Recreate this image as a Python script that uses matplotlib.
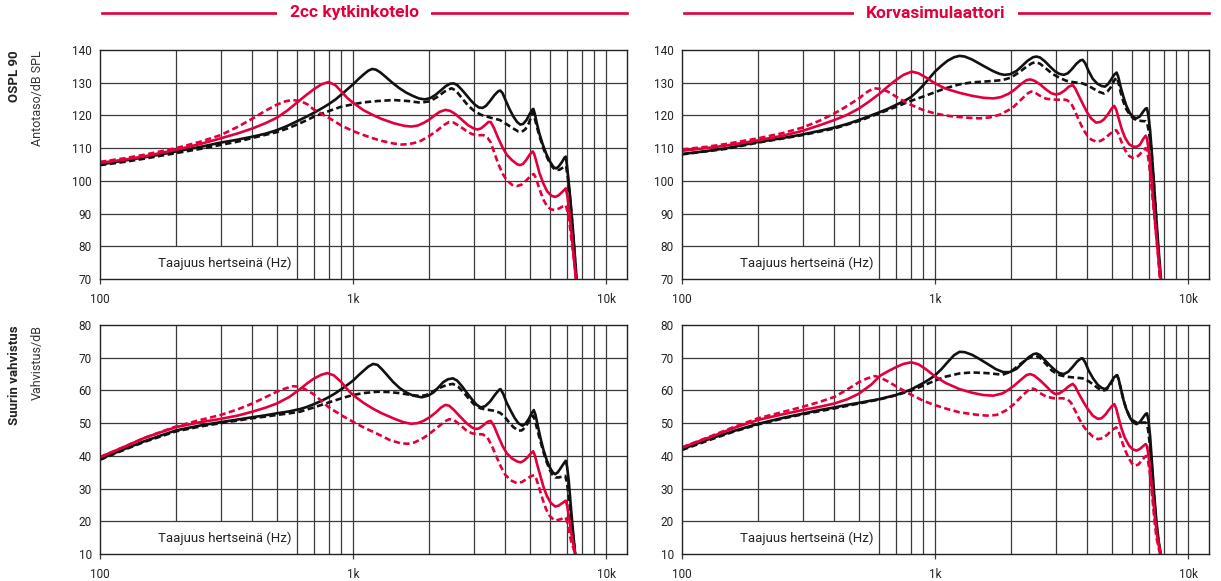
import matplotlib
matplotlib.use('Agg')
import matplotlib.pyplot as plt
from matplotlib.patches import Rectangle
from matplotlib.lines import Line2D
from matplotlib.ticker import FixedLocator, NullLocator, FixedFormatter

plt.rcParams['font.family'] = ['Roboto', 'DejaVu Sans']

RED = '#e2003c'
BLACK = '#111111'

# ---------------- Data (frequency in Hz, level in dB) ----------------
# Top-left: 2cc kytkinkotelo, OSPL 90
tl_bs_f = [100, 125, 150, 175, 200, 250, 300, 350, 400, 450, 500, 550, 600, 650, 700, 750, 800, 850, 900,
           950, 1000, 1050, 1100, 1150, 1190, 1230, 1280, 1350, 1430, 1520, 1620, 1720, 1820, 1920, 2020,
           2120, 2220, 2320, 2420, 2500, 2580, 2680, 2800, 2920, 3040, 3150, 3250, 3350, 3480, 3620, 3750,
           3820, 3900, 4000, 4150, 4300, 4450, 4580, 4700, 4850, 4980, 5100, 5160, 5230, 5330, 5450, 5600,
           5800, 6000, 6200, 6350, 6500, 6700, 6850, 6930, 7000, 7100, 7250, 7400, 7550, 7650]
tl_bs_v = [105, 106.2, 107.2, 108.1, 109, 110.4, 111.7, 112.6, 113.5, 114.4, 115.5, 116.8, 118.2, 119.5,
           120.8, 122.1, 123.4, 124.8, 126.4, 128, 129.5, 131.1, 132.5, 133.7, 134.2, 134, 133.2, 131.7,
           130, 128.4, 127, 126, 125.2, 124.9, 125.3, 126.3, 127.6, 128.9, 129.7, 129.8, 129.3, 128,
           126.3, 124.6, 123.2, 122.4, 122.3, 122.9, 124.4, 126.2, 127.4, 127.6, 126.8, 124.8, 122, 119.7,
           118, 117.2, 117.4, 118.6, 120.3, 121.7, 122, 120.5, 117.5, 114.5, 111.5, 108.3, 105.9, 104.2,
           103.8, 104.4, 105.8, 107.1, 107.4, 105, 100.5, 93, 85, 76, 70]
tl_bd_f = [100, 125, 150, 200, 250, 300, 350, 430, 500, 550, 600, 650, 700, 750, 800, 900, 1000, 1100,
           1250, 1450, 1650, 1850, 2000, 2150, 2300, 2450, 2550, 2700, 2850, 3000, 3200, 3500, 3800, 4050,
           4300, 4500, 4650, 4800, 4950, 5080, 5150, 5220, 5350, 5500, 5700, 5900, 6100, 6300, 6550, 6800,
           6950, 7050, 7200, 7350, 7500, 7620]
tl_bd_v = [104.8, 105.8, 106.8, 108.5, 109.8, 111, 112, 113.7, 114.9, 116, 117.2, 118.4, 119.6, 120.5,
           121.3, 122.7, 123.4, 124, 124.4, 124.7, 124.4, 123.9, 124.3, 125.6, 127.3, 128.3, 127.6, 125.2,
           123, 121.5, 120.2, 119.3, 118.6, 117.3, 116, 115.1, 115, 115.8, 117.6, 120, 121, 119.3, 116,
           112.8, 109.2, 106.5, 104.5, 103.3, 103.4, 104.2, 104.5, 101.5, 95, 87, 78, 70]
tl_rs_f = [100, 125, 150, 200, 250, 300, 350, 400, 450, 500, 550, 600, 650, 700, 750, 800, 850, 900, 950,
           1000, 1100, 1200, 1300, 1450, 1600, 1700, 1800, 1900, 2000, 2100, 2200, 2320, 2420, 2550, 2700,
           2850, 3000, 3100, 3200, 3320, 3430, 3500, 3600, 3750, 3900, 4050, 4250, 4450, 4570, 4700, 4850,
           5000, 5130, 5200, 5300, 5450, 5650, 5850, 6100, 6300, 6500, 6750, 6930, 7030, 7150, 7300, 7450,
           7600]
tl_rs_v = [105.5, 106.5, 107.5, 109.5, 111.3, 113, 114.5, 116, 117.6, 119.3, 121.5, 123.9, 126.1, 128,
           129.5, 130.2, 129.3, 127.3, 125.3, 123.9, 121.6, 120.1, 118.9, 117.6, 116.8, 116.6, 116.9,
           117.7, 118.7, 120, 121.1, 121.7, 121.4, 120.3, 118.6, 117, 116, 115.7, 116, 117, 118, 118,
           116.3, 113, 110.2, 108, 106.3, 105.1, 104.8, 105.2, 106.5, 108.1, 109, 108.2, 106, 102.5, 99.2,
           96.8, 95.4, 95.1, 95.6, 96.8, 97.7, 95.5, 91, 84, 77, 70]
tl_rd_f = [100, 125, 150, 200, 250, 300, 350, 400, 450, 500, 540, 575, 620, 660, 700, 750, 800, 900,
           1000, 1100, 1200, 1300, 1450, 1550, 1650, 1750, 1850, 2000, 2150, 2300, 2400, 2500, 2650, 2800,
           2950, 3100, 3270, 3400, 3500, 3620, 3750, 3900, 4050, 4250, 4450, 4650, 4850, 5050, 5180, 5280,
           5450, 5650, 5850, 6050, 6250, 6500, 6750, 6930, 7050, 7200, 7350, 7500, 7620]
tl_rd_v = [105.8, 106.9, 108, 110, 112, 114, 116.5, 119, 121.4, 123.3, 124.3, 124.7, 124.4, 123.4,
           121.8, 120.5, 119.3, 116.9, 115.2, 114, 113, 112.2, 111.4, 111.1, 111.2, 111.6, 112.2, 113.7,
           115.4, 117.2, 118, 117.8, 116.6, 115.3, 114.3, 113.9, 114, 113.2, 111.8, 108.5, 105.2, 102.2,
           100.2, 98.8, 98.4, 98.9, 100.2, 101.6, 102.1, 100.9, 97.6, 94.3, 92.2, 91.3, 91.1, 91.5, 92.2,
           92.6, 90.5, 86, 80, 75, 70]

# Top-right: Korvasimulaattori, OSPL 90
tr_bs_f = [100, 125, 150, 200, 250, 300, 350, 400, 450, 500, 550, 600, 650, 700, 750, 800, 850, 900, 950,
           1000, 1060, 1120, 1190, 1250, 1310, 1400, 1500, 1600, 1700, 1800, 1880, 1980, 2100, 2200, 2320,
           2440, 2520, 2600, 2720, 2850, 2980, 3100, 3230, 3350, 3480, 3620, 3750, 3830, 3920, 4050, 4200,
           4380, 4550, 4690, 4820, 4950, 5100, 5220, 5300, 5420, 5550, 5700, 5890, 6050, 6250, 6450, 6650,
           6800, 6880, 6970, 7080, 7200, 7350, 7500, 7650, 7820]
tr_bs_v = [108.2, 109.1, 110, 111.9, 113.1, 114.2, 115.3, 116.3, 117.4, 118.6, 119.8, 120.9, 122, 123.2,
           124.3, 125.5, 127.3, 129.3, 131.4, 133.4, 135.2, 136.7, 137.8, 138.2, 138, 137.1, 135.8, 134.6,
           133.5, 132.7, 132.4, 132.6, 133.6, 135, 136.7, 137.8, 138, 137.7, 136.5, 134.9, 133.5, 132.7,
           132.4, 132.9, 134.2, 135.8, 136.8, 137, 136, 133.5, 131.2, 129.7, 129, 128.8, 129.5, 130.8,
           132.4, 133.1, 131.8, 128.6, 125.8, 123, 120.7, 119.6, 119.1, 119.7, 121.2, 122.1, 122.2, 120,
           115.5, 108, 98, 88, 79, 70]
tr_bd_f = [100, 150, 200, 300, 400, 500, 600, 700, 800, 900, 1000, 1100, 1250, 1400, 1600, 1850, 2000,
           2150, 2300, 2420, 2500, 2600, 2750, 2900, 3100, 3300, 3500, 3830, 4050, 4220, 4450, 4650, 4800,
           4950, 5100, 5220, 5300, 5420, 5550, 5700, 5890, 6100, 6300, 6550, 6800, 6900, 7000, 7150, 7300,
           7450, 7600, 7750]
tr_bd_v = [108.1, 109.8, 111.7, 114, 116, 118.3, 120.6, 122.6, 124.4, 125.8, 127.1, 128.3, 129.5, 130.1,
           130.4, 130.8, 131.6, 133.2, 134.9, 136, 136.3, 135.8, 134.3, 132.8, 131.5, 130.6, 130.2, 129.8,
           129, 128.2, 127.2, 126.7, 127.3, 128.6, 130.6, 131.6, 130.2, 127, 124.2, 121.9, 120.2, 119,
           118.5, 118.3, 118.2, 117.5, 115, 110, 101, 91, 80, 70]
tr_rs_f = [100, 125, 150, 200, 250, 300, 350, 400, 450, 500, 550, 600, 650, 700, 750, 810, 860, 920,
           1000, 1100, 1250, 1400, 1550, 1700, 1820, 1950, 2050, 2180, 2300, 2380, 2470, 2600, 2750, 2880,
           3000, 3120, 3250, 3380, 3500, 3580, 3700, 3850, 4000, 4150, 4330, 4500, 4650, 4820, 4980, 5110,
           5200, 5330, 5480, 5650, 5850, 6050, 6250, 6450, 6650, 6800, 6880, 7000, 7150, 7300, 7450, 7620,
           7800]
tr_rs_v = [109.2, 110, 110.8, 112.4, 113.8, 115.3, 117, 118.6, 120.2, 122.1, 124.3, 126.5, 128.8, 130.8,
           132.4, 133.4, 132.9, 131.6, 129.8, 128.2, 126.9, 126, 125.4, 125.2, 125.6, 126.6, 127.7, 129.5,
           130.8, 131, 130.6, 129.5, 127.9, 126.8, 126.4, 126.7, 127.6, 128.8, 129.3, 128.3, 126, 123.3,
           120.8, 119, 117.8, 118, 118.8, 120.3, 122, 122.9, 121.8, 118.8, 115.6, 113, 111.2, 110.5,
           110.4, 111, 112.8, 113.8, 113, 109, 102, 93, 85, 77, 70]
tr_rd_f = [100, 125, 150, 200, 250, 300, 350, 400, 450, 500, 540, 572, 610, 650, 700, 750, 800, 900,
           1000, 1100, 1200, 1350, 1500, 1650, 1800, 1950, 2050, 2200, 2330, 2400, 2480, 2600, 2750, 2900,
           3050, 3200, 3320, 3450, 3550, 3700, 3850, 4000, 4150, 4330, 4500, 4700, 4900, 5100, 5200, 5300,
           5450, 5650, 5850, 6050, 6250, 6450, 6650, 6800, 6900, 7020, 7150, 7300, 7450, 7600, 7750]
tr_rd_v = [109.6, 110.4, 111.3, 113, 114.6, 116.3, 118.4, 120.6, 122.9, 125.2, 127.2, 128.3, 128.1,
           127.3, 125.8, 124.4, 123.3, 121.6, 120.6, 120, 119.6, 119.3, 119.1, 119.4, 120.2, 121.6, 122.7,
           125, 126.8, 127.3, 127, 126, 125.1, 124.9, 124.8, 124.9, 124.7, 123.7, 121.8, 118.6, 115.8,
           113.8, 112.6, 112, 112.2, 113, 114.3, 115.3, 115.5, 114.5, 112, 109.3, 107.6, 107, 107.2,
           108.1, 109.4, 110, 109, 105, 99, 92, 85, 78, 70]

# Bottom-left: 2cc kytkinkotelo, Suurin vahvistus
bl_bs_f = [100, 125, 150, 175, 200, 250, 300, 350, 400, 450, 500, 560, 617, 660, 700, 750, 800, 850, 900,
           950, 1000, 1050, 1100, 1150, 1200, 1250, 1300, 1360, 1440, 1530, 1630, 1730, 1870, 1980, 2080,
           2180, 2270, 2370, 2480, 2580, 2700, 2810, 2950, 3080, 3200, 3330, 3480, 3650, 3780, 3830, 3920,
           4050, 4200, 4350, 4500, 4670, 4800, 4950, 5080, 5180, 5260, 5380, 5500, 5650, 5830, 6000, 6150,
           6290, 6450, 6650, 6850, 6930, 7020, 7120, 7250, 7400, 7550]
bl_bs_v = [39, 42.1, 44.5, 46.3, 47.8, 49.3, 50.3, 51.1, 51.8, 52.4, 53, 53.6, 54.3, 55, 55.8, 56.8,
           57.9, 59.1, 60.4, 61.7, 63, 64.6, 66, 67.3, 68.1, 67.8, 66.5, 64.8, 62.6, 60.7, 59.3, 58.4,
           57.9, 58.4, 59.4, 61, 62.5, 63.4, 63.7, 63, 61.2, 59.4, 57.3, 55.6, 54.8, 55.2, 56.6, 58.8,
           60.2, 60.4, 59, 56.2, 53.8, 51.6, 50, 49.2, 49.8, 51.3, 53, 54, 52.6, 49, 45.6, 42, 38.7, 36.4,
           35, 34.4, 35, 36.5, 38, 38.5, 36.5, 32.5, 25, 17, 10]
bl_bd_f = [100, 125, 150, 200, 250, 300, 350, 400, 450, 500, 560, 617, 700, 800, 900, 1000, 1100, 1250,
           1400, 1550, 1700, 1850, 1950, 2050, 2200, 2350, 2480, 2600, 2750, 2900, 3050, 3200, 3400, 3600,
           3800, 3950, 4100, 4300, 4500, 4650, 4800, 4950, 5080, 5150, 5230, 5350, 5480, 5650, 5830, 6000,
           6150, 6300, 6500, 6750, 6900, 7000, 7100, 7250, 7400, 7550]
bl_bd_v = [38.8, 41.9, 44.3, 47.5, 49, 50, 50.8, 51.5, 52, 52.5, 53, 53.5, 54.8, 56.3, 57.6, 58.6,
           59.2, 59.6, 59.5, 59.1, 58.6, 58.3, 58.6, 59.5, 60.8, 61.7, 62, 61.2, 59.2, 57, 55.3, 54.5,
           54.1, 53.8, 53.2, 52.2, 50.6, 48.8, 47.7, 47.8, 48.8, 50.5, 51.8, 52.3, 51, 48, 45, 41.3, 38,
           35.6, 34.2, 33.4, 33.4, 33.7, 33.9, 32, 28.5, 22.5, 16, 10]
bl_rs_f = [100, 125, 150, 175, 200, 250, 300, 350, 400, 450, 500, 560, 617, 660, 700, 750, 792, 840, 900,
           950, 1000, 1100, 1200, 1300, 1450, 1580, 1700, 1800, 1900, 2000, 2120, 2230, 2320, 2400, 2500,
           2650, 2800, 2950, 3050, 3150, 3280, 3400, 3500, 3600, 3750, 3900, 4050, 4250, 4450, 4600, 4750,
           4900, 5050, 5150, 5230, 5350, 5480, 5650, 5830, 6050, 6300, 6500, 6750, 6930, 7030, 7150, 7300,
           7450, 7550]
bl_rs_v = [39.6, 42.8, 45.5, 47.3, 48.8, 50.3, 51.3, 52.3, 53.5, 54.7, 56, 58, 60.4, 62.2, 63.6, 64.8,
           65.3, 64.6, 62.5, 60.3, 58.6, 56.2, 54.4, 53, 51.4, 50.3, 49.8, 50, 50.7, 51.7, 53.2, 54.8,
           55.6, 55.3, 54.1, 52, 50.1, 48.7, 48.2, 48.4, 49.4, 50.4, 50.7, 49.3, 46, 43, 40.8, 39.2, 38.3,
           38, 38.6, 39.6, 40.8, 41.4, 40.2, 37.2, 34.3, 30.7, 27.8, 25.6, 24.5, 24.8, 25.7, 26.3, 24.5,
           21, 16, 12.5, 10]
bl_rd_f = [100, 125, 150, 200, 250, 300, 350, 400, 450, 500, 540, 580, 617, 660, 700, 750, 800, 900,
           1000, 1100, 1250, 1400, 1550, 1650, 1750, 1900, 2000, 2150, 2300, 2400, 2500, 2650, 2800, 2950,
           3100, 3250, 3400, 3550, 3700, 3850, 4000, 4200, 4430, 4650, 4850, 5050, 5200, 5300, 5450, 5600,
           5800, 6000, 6200, 6350, 6600, 6850, 6930, 7030, 7150, 7300, 7450, 7550]
bl_rd_v = [39.6, 42.8, 45.5, 49, 51, 52.5, 54.2, 56, 57.9, 59.6, 60.6, 61.3, 61.1, 60, 58.8, 56.8, 54.9,
           52.4, 50.4, 48.7, 46.7, 44.8, 43.8, 43.7, 44.1, 45.5, 46.7, 48.6, 50.5, 51.2, 51, 49.5, 47.8,
           46.9, 46.6, 46.6, 45.6, 42.8, 39.5, 36.5, 34.2, 32.5, 31.7, 32, 32.9, 33.8, 34.1, 33, 30, 27,
           23.6, 21.6, 20.5, 20.3, 20.6, 21.1, 21.2, 19.5, 16.5, 13.5, 11.5, 10]

# Bottom-right: Korvasimulaattori, Suurin vahvistus
br_bs_f = [100, 115, 130, 160, 200, 250, 300, 350, 400, 450, 500, 560, 607, 700, 800, 900, 950, 1000,
           1060, 1120, 1190, 1250, 1310, 1400, 1500, 1620, 1740, 1860, 1970, 2100, 2220, 2350, 2450, 2520,
           2600, 2720, 2850, 2980, 3100, 3230, 3360, 3500, 3650, 3780, 3830, 3920, 4050, 4220, 4400, 4550,
           4690, 4820, 4950, 5100, 5240, 5320, 5440, 5560, 5700, 5890, 6050, 6250, 6450, 6650, 6800, 6880,
           6970, 7080, 7200, 7350, 7500, 7650, 7800]
br_bs_v = [42, 43.8, 45.3, 47.6, 49.8, 51.6, 52.9, 54, 54.8, 55.6, 56.2, 56.9, 57.4, 58.6, 60.2, 62.3,
           63.4, 64.6, 66.5, 68.6, 70.8, 71.8, 71.7, 70.9, 69.6, 68, 66.5, 65.6, 65.6, 66.6, 68.4, 70.2,
           71.1, 71.3, 70.8, 69.2, 67.6, 66.2, 65.3, 65, 65.7, 67.2, 68.9, 69.8, 69.8, 68.6, 66, 63.6,
           61.7, 60.8, 60.4, 61, 62.4, 64, 64.7, 63.4, 60.2, 57, 54.3, 51.7, 50.3, 49.7, 50.3, 51.8, 52.8,
           53, 51, 46, 38, 28, 20, 14, 10]
br_bd_f = [100, 130, 160, 200, 250, 300, 400, 500, 607, 700, 800, 900, 1000, 1100, 1250, 1400, 1600,
           1850, 2000, 2150, 2300, 2420, 2500, 2600, 2750, 2900, 3100, 3300, 3500, 3830, 4050, 4220, 4400,
           4600, 4750, 4900, 5050, 5200, 5260, 5340, 5440, 5560, 5700, 5890, 6050, 6250, 6500, 6750, 6850,
           6950, 7050, 7170, 7300, 7450, 7600, 7750]
br_bd_v = [41.8, 45, 47.4, 49.6, 51.4, 52.7, 54.5, 56, 57.3, 58.5, 59.9, 61.5, 63, 64.2, 65.2, 65.5,
           65.3, 64.8, 65.8, 67.8, 69.5, 70.4, 70.6, 70, 68, 66, 64.7, 64.2, 64, 63.7, 62.8, 61.8, 60.7,
           59.9, 60.2, 61.5, 63.2, 64.5, 64.5, 62.8, 60, 57, 54.3, 51.8, 50.8, 50.2, 50.1, 50.2, 50, 48,
           44, 38, 30, 21, 15, 10]
br_rs_f = [100, 115, 130, 160, 200, 250, 300, 350, 400, 450, 500, 560, 607, 650, 700, 750, 805, 860, 920,
           1000, 1100, 1250, 1400, 1550, 1700, 1850, 1950, 2050, 2180, 2300, 2380, 2470, 2600, 2750, 2880,
           2980, 3100, 3230, 3380, 3500, 3580, 3700, 3850, 4000, 4200, 4400, 4550, 4700, 4850, 5000, 5110,
           5200, 5320, 5450, 5620, 5850, 6050, 6250, 6450, 6650, 6800, 6880, 6980, 7100, 7250, 7400, 7550,
           7800]
br_rs_v = [42.5, 44.3, 45.8, 48.5, 51, 52.7, 54, 55, 56, 57.3, 59, 61.8, 64.5, 65.8, 67.1, 68.1, 68.6,
           68, 66.5, 64.3, 62.3, 60.4, 59.3, 58.6, 58.4, 59.1, 60.2, 61.4, 63.2, 64.7, 65, 64.5, 63.1,
           61.3, 59.7, 58.9, 59.1, 60, 61.3, 62, 61.2, 59, 56.6, 54.5, 52.3, 51.3, 51.5, 52.5, 53.9, 55.2,
           55.8, 54.5, 51.5, 48.5, 45.6, 43.1, 42, 41.6, 42.1, 43, 43.6, 43, 40, 35, 28, 21, 15.5, 10]
br_rd_f = [100, 130, 160, 200, 250, 300, 350, 400, 450, 500, 540, 580, 620, 660, 700, 800, 900, 1000,
           1120, 1250, 1450, 1600, 1750, 1900, 2050, 2200, 2330, 2400, 2480, 2600, 2750, 2950, 3200, 3350,
           3450, 3580, 3720, 3850, 4000, 4200, 4400, 4600, 4800, 5000, 5200, 5300, 5450, 5600, 5800, 6000,
           6150, 6350, 6550, 6750, 6850, 6950, 7080, 7200, 7350, 7500, 7750]
br_rd_v = [42.6, 46, 48.8, 51.5, 53.4, 55, 56.5, 58, 60.3, 62.5, 63.7, 64.4, 63.6, 62.5, 61.3, 58.8,
           56.8, 55.5, 54.3, 53.3, 52.6, 52.3, 52.5, 53.8, 55.8, 58.2, 60, 60.6, 60.4, 59.2, 58.1, 57.6,
           57.6, 57.2, 56.2, 53.8, 51.2, 49.2, 47.5, 45.9, 45.1, 45.4, 46.5, 47.9, 48.7, 47.8, 45, 42.3,
           39.6, 37.7, 37, 37.3, 38.5, 39.7, 40, 38.5, 34, 28.5, 21, 15, 10]

col_titles = ['2cc kytkinkotelo', 'Korvasimulaattori']
row_bold = ['OSPL 90', 'Suurin vahvistus']
row_units = ['Antotaso/dB SPL', 'Vahvistus/dB']
x_label_text = 'Taajuus hertseinä (Hz)'
y_ranges = [(70, 140), (10, 80)]
x_ticks = [100, 1000, 10000]
x_tick_labels = ['100', '1k', '10k']
x_grid = [200, 300, 400, 500, 600, 700, 800, 900, 1000,
          2000, 3000, 4000, 5000, 6000, 7000, 8000, 9000, 10000]

panels = {
    (0, 0): [(tl_bd_f, tl_bd_v, 'bd'), (tl_bs_f, tl_bs_v, 'bs'), (tl_rs_f, tl_rs_v, 'rs'), (tl_rd_f, tl_rd_v, 'rd')],
    (0, 1): [(tr_bd_f, tr_bd_v, 'bd'), (tr_bs_f, tr_bs_v, 'bs'), (tr_rs_f, tr_rs_v, 'rs'), (tr_rd_f, tr_rd_v, 'rd')],
    (1, 0): [(bl_bd_f, bl_bd_v, 'bd'), (bl_bs_f, bl_bs_v, 'bs'), (bl_rs_f, bl_rs_v, 'rs'), (bl_rd_f, bl_rd_v, 'rd')],
    (1, 1): [(br_bd_f, br_bd_v, 'bd'), (br_bs_f, br_bs_v, 'bs'), (br_rs_f, br_rs_v, 'rs'), (br_rd_f, br_rd_v, 'rd')],
}
styles = {
    'bs': dict(color=BLACK, linestyle='-'),
    'bd': dict(color=BLACK, linestyle=(0, (2.4, 1.3))),
    'rs': dict(color=RED, linestyle='-'),
    'rd': dict(color=RED, linestyle=(0, (2.4, 1.3))),
}

# ---------------- Figure ----------------
W, H = 1221, 581
fig = plt.figure(figsize=(W / 100, H / 100), dpi=100)

col_left_px = [100, 682]
ax_w_px = 527
row_top_px = [50, 325]
ax_h_px = 229
GRID = '#3a3a3a'

for (r, c), curves in panels.items():
    l = col_left_px[c] / W
    b = 1 - (row_top_px[r] + ax_h_px) / H
    ax = fig.add_axes([l, b, ax_w_px / W, ax_h_px / H])
    ax.set_xscale('log')
    ax.set_xlim(100, 12100)
    y0, y1 = y_ranges[r]
    ax.set_ylim(y0, y1)
    ax.set_axisbelow(True)

    for xv in x_grid:
        ax.axvline(xv, color=GRID, lw=0.9, zorder=0.5)
    for yv in range(y0 + 10, y1, 10):
        ax.axhline(yv, color=GRID, lw=0.9, zorder=0.8)

    ax.add_patch(Rectangle((100, y0), 590 - 100, 9.8, facecolor='white', edgecolor='none', zorder=0.7))
    ax.text(310, y0 + 4.9, x_label_text, ha='center', va='center', fontsize=9.5, color='#222222', zorder=3)

    for f, v, key in curves:
        ax.plot(f, v, lw=1.9, solid_capstyle='butt', dash_capstyle='butt',
                solid_joinstyle='round', zorder=2, **styles[key])

    ax.xaxis.set_major_locator(FixedLocator(x_ticks))
    ax.xaxis.set_major_formatter(FixedFormatter(x_tick_labels))
    ax.xaxis.set_minor_locator(NullLocator())
    ax.set_yticks(list(range(y0, y1 + 1, 10)))
    ax.tick_params(axis='x', length=3.6, width=0.9, color=GRID, pad=6.5, labelsize=8.5, labelcolor='#222222')
    ax.tick_params(axis='y', length=0, pad=6, labelsize=8.5, labelcolor='#222222')
    for s in ax.spines.values():
        s.set_linewidth(1.0)
        s.set_color('#222222')

for c, title in enumerate(col_titles):
    x0 = col_left_px[c] + 2
    x1 = col_left_px[c] + ax_w_px
    yl = 1 - 13 / H
    fig.add_artist(Line2D([x0 / W, x1 / W], [yl, yl], color=RED, lw=1.9))
    cx = [354, 936][c]
    fig.text(cx / W, yl, title, ha='center', va='center', fontsize=12.5, fontweight='bold', color=RED,
             bbox=dict(boxstyle='square,pad=0.7', facecolor='white', edgecolor='none'))

for r in range(2):
    top = 1 - row_top_px[r] / H
    fig.text(15 / W, top, row_bold[r], rotation=90, ha='center', va='top', fontsize=9.5,
             fontweight='bold', color='#222222')
    fig.text(37 / W, top, row_units[r], rotation=90, ha='center', va='top', fontsize=9,
             color='#333333')

fig.savefig('out.png', dpi=100)
